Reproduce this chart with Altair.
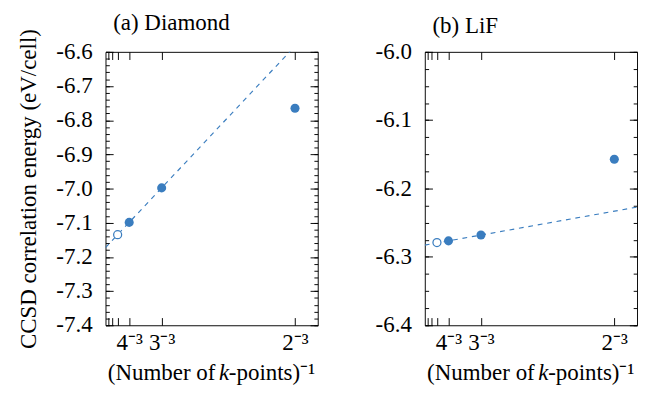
import altair as alt
import numpy as np
import pandas as pd

# ---- data ----
k_mesh = [4, 3, 2]                       # k-point mesh n (x = n^-3)
diamond_E = [-7.099, -6.998, -6.765]     # eV/cell
lif_E = [-6.2765, -6.268, -6.157]
extrap_k = 5                              # open circle at 5^-3
diamond_extrap = -7.135
lif_extrap = -6.279
x_tick_k = [8, 6, 5, 4, 3, 2]
x_label_k = [4, 3, 2]
x_labels = ["4⁻³", "3⁻³", "2⁻³"]
fit_x = [0.0, 0.14]
xtitle_parts = ["(Number of", "k", "-points)⁻¹"]

COL = "#3a7dbf"
FONT = "Liberation Serif"
FS = 24
W, H = 222, 286


def label_expr():
    parts = []
    for k, lab in zip(x_label_k, x_labels):
        parts.append(f"abs(datum.value - {k ** -3:.10f}) < 1e-6 ? '{lab}' : ")
    return "".join(parts) + "''"


def panel(title, E, extrap, ydom, ymajor, yminor, ytitle, toff):
    xs = [k ** -3 for k in k_mesh]
    pts = pd.DataFrame({"x": xs, "y": E})
    opn = pd.DataFrame({"x": [extrap_k ** -3], "y": [extrap]})
    slope, icpt = np.polyfit(xs[:2], E[:2], 1)
    line = pd.DataFrame({"x": fit_x, "y": [icpt + slope * v for v in fit_x]})

    xs_scale = alt.Scale(domain=[0, 0.14], nice=False, zero=False)
    ys_scale = alt.Scale(domain=ydom, nice=False, zero=False)
    xticks = [k ** -3 for k in x_tick_k]

    common = dict(domain=False, grid=False, labelFont=FONT, titleFont=FONT,
                  labelFontSize=FS, titleFontSize=FS, labelColor="black",
                  titleColor="black", tickColor="black", titleFontWeight="normal")

    x_bottom = alt.Axis(orient="bottom", values=xticks, labelExpr=label_expr(),
                        tickSize=8, offset=-8, labelPadding=6, title=None,
                        labelFlush=False, labelOverlap=False, **common)
    x_top = alt.Axis(orient="top", values=xticks, labels=False, tickSize=8,
                     offset=-8, title=None, **common)
    y_left = alt.Axis(orient="left", values=ymajor, tickSize=8, offset=-8,
                      labelExpr="'-' + format(abs(datum.value), '.1f')",
                      labelPadding=14, title=ytitle if ytitle else None,
                      titlePadding=16, **common)
    y_left_minor = alt.Axis(orient="left", values=yminor, tickSize=4, offset=-4,
                            labels=False, title=None, **common)
    y_right = alt.Axis(orient="right", values=ymajor, tickSize=8, offset=-8,
                       labels=False, title=None, **common)
    y_right_minor = alt.Axis(orient="right", values=yminor, tickSize=4, offset=-4,
                             labels=False, title=None, **common)

    l1 = alt.Chart(line).mark_line(color=COL, strokeDash=[5, 5], strokeWidth=1.2,
                                   clip=True).encode(
        x=alt.X("x:Q", scale=xs_scale, axis=x_bottom),
        y=alt.Y("y:Q", scale=ys_scale, axis=y_left))
    l2 = alt.Chart(pts).mark_circle(color=COL, size=90, opacity=1).encode(
        x=alt.X("x:Q", scale=xs_scale, axis=x_top),
        y=alt.Y("y:Q", scale=ys_scale, axis=y_right))
    l3 = alt.Chart(opn).mark_point(color=COL, size=70, filled=False, fill="white",
                                   fillOpacity=1, strokeWidth=1.3, opacity=1).encode(
        x=alt.X("x:Q", scale=xs_scale, axis=None),
        y=alt.Y("y:Q", scale=ys_scale, axis=y_left_minor))
    l4 = alt.Chart(opn).mark_point(opacity=0).encode(
        x=alt.X("x:Q", scale=xs_scale, axis=None),
        y=alt.Y("y:Q", scale=ys_scale, axis=y_right_minor))

    ty = H + 57
    t1 = alt.Chart(pd.DataFrame({"t": [xtitle_parts[0]]})).mark_text(
        font=FONT, fontSize=FS, align="right", baseline="alphabetic", color="black").encode(
        text="t:N", x=alt.value(115), y=alt.value(ty))
    t2 = alt.Chart(pd.DataFrame({"t": [xtitle_parts[1]]})).mark_text(
        font=FONT, fontSize=FS, fontStyle="italic", align="center", baseline="alphabetic",
        color="black").encode(text="t:N", x=alt.value(124), y=alt.value(ty))
    t3 = alt.Chart(pd.DataFrame({"t": [xtitle_parts[2]]})).mark_text(
        font=FONT, fontSize=FS, align="left", baseline="alphabetic", color="black").encode(
        text="t:N", x=alt.value(129), y=alt.value(ty))

    return alt.layer(l1, l2, l3, l4, t1, t2, t3).resolve_axis(
        x="independent", y="independent").properties(
        width=W, height=H,
        title=alt.TitleParams(title, anchor="start", frame="group", font=FONT,
                              fontSize=FS, fontWeight="normal", color="black",
                              dx=8, offset=toff))


def ticks(lo, hi, step):
    n = int(round((hi - lo) / step))
    return [round(lo + i * step, 4) for i in range(n + 1)]


left = panel("(a) Diamond", diamond_E, diamond_extrap, [-7.4, -6.6],
             ticks(-7.4, -6.6, 0.1), ticks(-7.4, -6.6, 0.02),
             "CCSD correlation energy (eV/cell)", -7)
right = panel("(b) LiF", lif_E, lif_extrap, [-6.4, -6.0],
              ticks(-6.4, -6.0, 0.1), ticks(-6.4, -6.0, 0.025), None, 3)

chart = alt.hconcat(left, right, spacing=58).properties(
    padding={"left": 9, "top": -5, "right": 0, "bottom": 0}
).configure_view(stroke="black", strokeWidth=1)

chart.save("out.html", embed_options={"renderer": "svg", "actions": False})
